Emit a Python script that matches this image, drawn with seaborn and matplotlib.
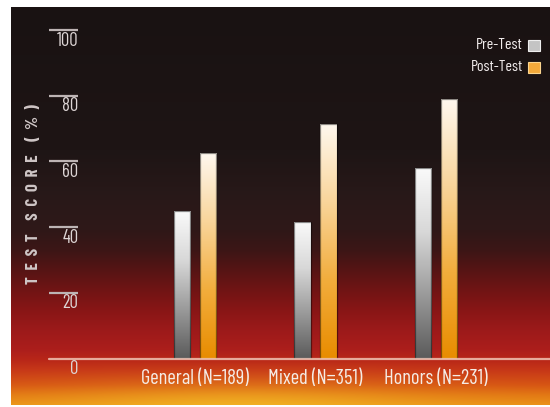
import matplotlib
matplotlib.use("Agg")
import matplotlib.pyplot as plt
from matplotlib import font_manager as fm
from matplotlib.colors import LinearSegmentedColormap, to_rgb
from matplotlib.patches import Rectangle
import matplotlib.transforms as mtransforms
import numpy as np
import pandas as pd
import seaborn as sns

# ---------------- data ----------------
groups = ["General (N=189)", "Mixed (N=351)", "Honors (N=231)"]
series = ["Pre-Test", "Post-Test"]
pre_scores = [45, 41.5, 58]
post_scores = [62.5, 71.5, 79]
y_ticks = [0, 20, 40, 60, 80, 100]
y_label = "TEST SCORE (%)"

df = pd.DataFrame({
    "group": groups * 2,
    "series": [series[0]] * 3 + [series[1]] * 3,
    "score": pre_scores + post_scores,
})

sns.set_theme(style="white")

# ---------------- fonts ----------------
names = {f.name for f in fm.fontManager.ttflist}
cond_candidates = ["Barlow Condensed", "Roboto Condensed", "Archivo Narrow", "Liberation Sans Narrow"]
cond = next((n for n in cond_candidates if n in names), None)
FAM = [cond, "DejaVu Sans"] if cond else ["DejaVu Sans"]
sc = 1.0 if cond else 0.75
plt.rcParams["font.family"] = FAM

W, H = 550, 407
fig = plt.figure(figsize=(W / 100, H / 100), dpi=100)
fig.patch.set_facecolor("white")

# ---------------- background panel ----------------
px0, py0, px1, py1 = 11, 7, 550, 405   # pixel box (top-left origin)
bg = fig.add_axes([px0 / W, (H - py1) / H, (px1 - px0) / W, (py1 - py0) / H])
bg.set_axis_off()
stops_y = [7, 150, 200, 230, 250, 270, 290, 310, 330, 350, 360, 370, 385, 395, 405]
stops_c = ["#191212", "#1e1515", "#291919", "#2f1818", "#3c1616", "#561414", "#701414",
           "#881616", "#9c1a1a", "#ac1e1c", "#b82618", "#c63618", "#d65414", "#e27614", "#ea9018"]
ys = np.arange(py0, py1) + 0.5
xs = np.arange(px0, px1) + 0.5
cols = np.array([to_rgb(c) for c in stops_c])
prof = np.stack([np.interp(ys, stops_y, cols[:, k]) for k in range(3)], axis=1)
img = np.repeat(prof[:, None, :], len(xs), axis=1)
X, Y = np.meshgrid(xs, ys)
glow = np.exp(-(((X - 240) / 190) ** 2 + ((Y - 418) / 30) ** 2))
glow_c = np.array(to_rgb("#f4c028"))
img = img * (1 - glow[..., None] * 0.8) + glow_c * glow[..., None] * 0.8
bg.imshow(np.clip(img, 0, 1), aspect="auto", extent=[0, 1, 0, 1], interpolation="bilinear")
bg.set_xlim(0, 1); bg.set_ylim(0, 1)

# ---------------- main axes ----------------
y0px, y100px = 358.7, 30.0
ax_left, ax_right = 49, 550
ax = fig.add_axes([ax_left / W, (H - y0px) / H, (ax_right - ax_left) / W, (y0px - y100px) / H])
ax.patch.set_alpha(0)

sns.barplot(data=df, x="group", y="score", hue="series", order=groups, hue_order=series,
            width=0.432, gap=0.366, ax=ax, legend=False, errorbar=None)

centers_px = [195, 315.5, 436]
ppu = (centers_px[2] - centers_px[0]) / 2
xlim = (-(centers_px[0] - ax_left) / ppu, 2 + (ax_right - centers_px[2]) / ppu)
for s in ax.spines.values():
    s.set_visible(False)
ax.set_yticks([])
ax.set_xlabel("")
ax.set_ylabel("")
ax.tick_params(axis="x", length=0, pad=7.5, labelsize=14.8 * sc, labelcolor="#f5ece6")

cmap_pre = LinearSegmentedColormap.from_list("pre", ["#5a5a5a", "#9a9a9a", "#d8d8d8", "#fafafa"])
cmap_post = LinearSegmentedColormap.from_list("post", ["#e88c00", "#f2ad3c", "#f9d59a", "#fff8ef"])
grad = np.linspace(0, 1, 256)[:, None]
for i, bar in enumerate(ax.patches):
    x, yb = bar.get_x(), bar.get_y()
    w, h = bar.get_width(), bar.get_height()
    if h <= 0:
        continue
    cm = cmap_pre if i < len(groups) else cmap_post
    bar.set_facecolor("none")
    bar.set_edgecolor((0, 0, 0, 0.45))
    bar.set_linewidth(0.9)
    bar.set_zorder(3)
    im = ax.imshow(grad, cmap=cm, origin="lower", aspect="auto",
                   extent=[x, x + w, yb, yb + h], zorder=2, interpolation="bilinear")
    im.set_clip_path(bar)
ax.set_xlim(*xlim)
ax.set_ylim(0, 100)

# y ticks: short lines with labels underneath
blend = mtransforms.blended_transform_factory(ax.transAxes, ax.transData)
tick_frac = (78.3 - ax_left) / (ax_right - ax_left)
for t in y_ticks:
    if t == 0:
        ax.axhline(0, color="#efc3b4", lw=1.6, alpha=0.85, zorder=4, clip_on=False)
    else:
        ax.plot([0, tick_frac], [t, t], transform=blend, color="#bdb4b4", lw=1.6,
                zorder=4, clip_on=False, solid_capstyle="butt")
    lab = ax.text(tick_frac, t, str(t), transform=blend,
                  ha="right", va="center", fontsize=13.5 * sc, color="#ddd5d5", zorder=5)
    lab.set_transform(blend + mtransforms.ScaledTranslation(0, -10.5 / 100, fig.dpi_scale_trans))

# y label (letter-spaced)
spaced = "    ".join("  ".join(w) for w in y_label.split(" "))
fig.text(34 / W, 1 - 194 / H, spaced, rotation=90, ha="center", va="center",
         fontsize=12 * sc, fontweight="bold", color="#cfc6c6")

# legend (manual)
leg_colors = [("#c4c4c4", "#eeeeee"), ("#f3a93a", "#fbd690")]
for k, (name, yc) in enumerate(zip(series, [45, 67])):
    fig.text(523 / W, 1 - yc / H, name, ha="right", va="center", fontsize=11.5 * sc, color="#f2eded")
    fig.patches.append(Rectangle(((528) / W, 1 - (yc + 5.5) / H), 12 / W, 11 / H,
                                 transform=fig.transFigure, facecolor=leg_colors[k][0],
                                 edgecolor=leg_colors[k][1], lw=0.8))

fig.savefig("out.png", dpi=100, facecolor=fig.get_facecolor())
